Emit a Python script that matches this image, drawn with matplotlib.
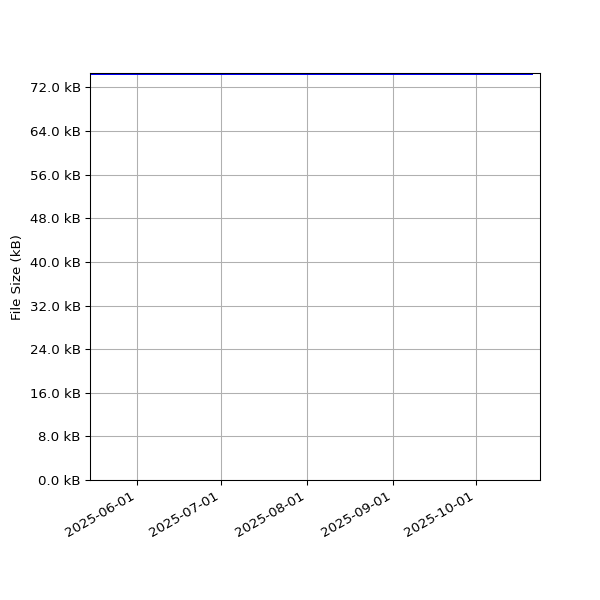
import matplotlib
matplotlib.use("Agg")
import matplotlib.pyplot as plt
import matplotlib.dates as mdates
from matplotlib.ticker import FuncFormatter, MultipleLocator
import pandas as pd

dates = ["2025-05-15", "2025-06-15", "2025-07-15", "2025-08-15", "2025-09-15", "2025-10-21"]
sizes_kb = [74.4, 74.4, 74.4, 74.4, 74.4, 74.4]
x_range = ["2025-05-15", "2025-10-24"]
y_top = 74.6

d = pd.to_datetime(dates)

fig, ax = plt.subplots(figsize=(6.25, 6.25), dpi=96)
ax.plot(d, sizes_kb, color="blue", linewidth=1.5)
ax.set_xlim(pd.to_datetime(x_range[0]), pd.to_datetime(x_range[1]))
ax.set_ylim(0, y_top)
ax.yaxis.set_major_locator(MultipleLocator(8))
ax.yaxis.set_major_formatter(FuncFormatter(lambda v, p: f"{v:.1f} kB"))
ax.xaxis.set_major_locator(mdates.MonthLocator(bymonth=[6, 7, 8, 9, 10]))
ax.xaxis.set_major_formatter(mdates.DateFormatter("%Y-%m-%d"))
ax.set_ylabel("File Size (kB)")
ax.grid(True)
fig.autofmt_xdate()
fig.subplots_adjust(left=0.15, right=0.9, top=0.878, bottom=0.2)
fig.savefig("out.png", dpi=96)
